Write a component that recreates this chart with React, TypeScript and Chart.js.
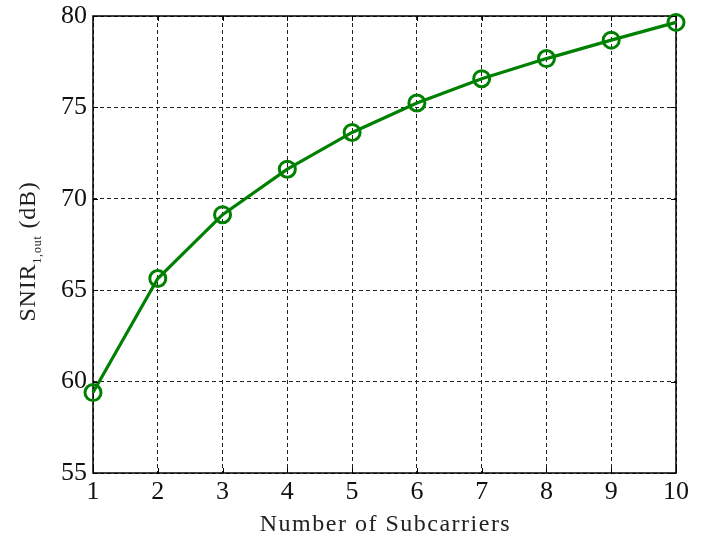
import React, { useEffect, useRef } from "react";
import { Chart, registerables } from "chart.js";

Chart.register(...registerables);

// Number of subcarriers and the resulting output SNIR (dB)
const subcarriers = [1, 2, 3, 4, 5, 6, 7, 8, 9, 10];
const snirOut = [59.4, 65.64, 69.13, 71.62, 73.63, 75.24, 76.57, 77.67, 78.68, 79.65];

const xTicks = [1, 2, 3, 4, 5, 6, 7, 8, 9, 10];
const yTicks = [55, 60, 65, 70, 75, 80];

const xTitle = "Number of Subcarriers";
const yTitleMain = "SNIR";
const yTitleSub = "1,out";
const yTitleTail = " (dB)";

const FONT = "'Liberation Serif', 'DejaVu Serif', serif";
const GREEN = "#008000";

// Solid frame around the plot area, drawn over the dashed grid
const frame = {
  id: "frame",
  beforeDatasetsDraw(chart: any) {
    const { ctx, chartArea } = chart;
    ctx.save();
    ctx.strokeStyle = "#000";
    ctx.lineWidth = 1.5;
    ctx.setLineDash([]);
    ctx.strokeRect(
      chartArea.left,
      chartArea.top,
      chartArea.right - chartArea.left,
      chartArea.bottom - chartArea.top
    );
    ctx.restore();
  },
};

// Axis titles (with subscript) and inward tick marks on all four sides
const decorations = {
  id: "decorations",
  afterDraw(chart: any) {
    const { ctx, chartArea } = chart;
    const { left, right, top, bottom } = chartArea;
    const xs = chart.scales.x;
    const ys = chart.scales.y;
    ctx.save();
    ctx.strokeStyle = "#000";
    ctx.lineWidth = 1;
    const len = 5;
    ctx.beginPath();
    xTicks.forEach((t) => {
      const px = Math.round(xs.getPixelForValue(t)) + 0.5;
      ctx.moveTo(px, bottom);
      ctx.lineTo(px, bottom - len);
      ctx.moveTo(px, top);
      ctx.lineTo(px, top + len);
    });
    yTicks.forEach((t) => {
      const py = Math.round(ys.getPixelForValue(t)) + 0.5;
      ctx.moveTo(left, py);
      ctx.lineTo(left + len, py);
      ctx.moveTo(right, py);
      ctx.lineTo(right - len, py);
    });
    ctx.stroke();

    ctx.fillStyle = "#222";
    ctx.textBaseline = "alphabetic";
    // x title
    ctx.font = `24px ${FONT}`;
    (ctx as any).letterSpacing = "1.5px";
    ctx.textAlign = "center";
    ctx.fillText(xTitle, (left + right) / 2 + 1, 531);

    // y title, rotated, with subscript
    (ctx as any).letterSpacing = "0.8px";
    const mainFont = `24px ${FONT}`;
    const subFont = `12px ${FONT}`;
    ctx.font = mainFont;
    const w1 = ctx.measureText(yTitleMain).width;
    const w3 = ctx.measureText(yTitleTail).width;
    ctx.font = subFont;
    const w2 = ctx.measureText(yTitleSub).width;
    const total = w1 + w2 + w3;
    ctx.translate(35, (top + bottom) / 2 + 7);
    ctx.rotate(-Math.PI / 2);
    ctx.textAlign = "left";
    let x0 = -total / 2;
    ctx.font = mainFont;
    ctx.fillText(yTitleMain, x0, 0);
    x0 += w1;
    ctx.font = subFont;
    ctx.fillText(yTitleSub, x0, 6);
    x0 += w2;
    ctx.font = mainFont;
    ctx.fillText(yTitleTail, x0, 0);
    ctx.restore();
  },
};

export default function App() {
  const canvasRef = useRef<HTMLCanvasElement | null>(null);

  useEffect(() => {
    document.body.style.margin = "0";
    const canvas = canvasRef.current;
    if (!canvas) return;
    const gridStyle = {
      color: "#222",
      lineWidth: 1,
      drawTicks: false,
      tickLength: 0,
    };
    const chart = new Chart(canvas, {
      type: "line",
      data: {
        datasets: [
          {
            data: subcarriers.map((x, i) => ({ x, y: snirOut[i] })),
            borderColor: GREEN,
            borderWidth: 3.2,
            pointRadius: 8,
            pointBorderWidth: 3,
            pointBorderColor: GREEN,
            pointBackgroundColor: "rgba(0,0,0,0)",
            pointStyle: "circle",
            tension: 0,
            clip: false,
          },
        ],
      },
      options: {
        animation: false,
        responsive: false,
        devicePixelRatio: 1,
        layout: { padding: { left: 0, right: 39, top: 16, bottom: 0 } },
        plugins: {
          legend: { display: false },
          tooltip: { enabled: false },
        },
        scales: {
          x: {
            type: "linear",
            min: 1,
            max: 10,
            afterFit: (s: any) => {
              s.height = 70;
              s.paddingLeft = 0;
              s.paddingRight = 0;
            },
            afterBuildTicks: (s: any) => {
              s.ticks = xTicks.map((v) => ({ value: v }));
            },
            ticks: {
              color: "#111",
              font: { family: FONT, size: 26 },
              padding: 4,
              maxRotation: 0,
              autoSkip: false,
            },
            grid: gridStyle,
            border: { display: false, dash: [4, 3] },
          },
          y: {
            type: "linear",
            min: 55,
            max: 80,
            afterFit: (s: any) => {
              s.width = 93;
              s.paddingTop = 0;
              s.paddingBottom = 0;
            },
            afterBuildTicks: (s: any) => {
              s.ticks = yTicks.map((v) => ({ value: v }));
            },
            ticks: {
              color: "#111",
              font: { family: FONT, size: 26 },
              padding: 6,
            },
            grid: gridStyle,
            border: { display: false, dash: [4, 3] },
          },
        },
      },
      plugins: [frame, decorations],
    } as any);
    return () => chart.destroy();
  }, []);

  return (
    <div style={{ width: 715, height: 543 }}>
      <canvas ref={canvasRef} width={715} height={543} />
    </div>
  );
}
